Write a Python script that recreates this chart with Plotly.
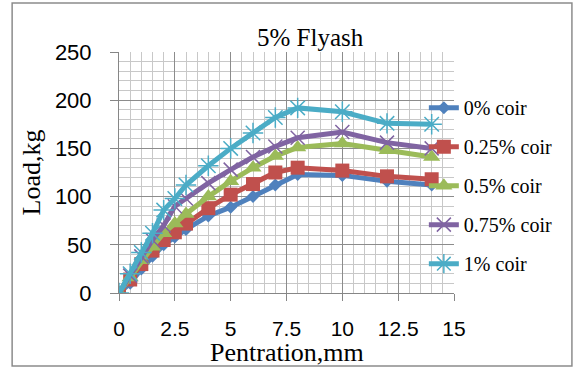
import plotly.graph_objects as go

# Penetration (mm) and load (kg) readings for each coir content, 5% fly ash mix
penetration = [0, 0.5, 1, 1.5, 2, 2.5, 3, 4, 5, 6, 7, 8, 10, 12, 14]
load_coir_0 = [0, 10, 25, 38, 50, 58, 66, 80, 89, 100, 112, 123, 122, 116, 112]
load_coir_025 = [0, 14, 30, 44, 55, 63, 72, 88, 102, 113, 125, 130, 127, 121, 118]
load_coir_05 = [0, 16, 34, 48, 62, 72, 82, 100, 116, 130, 142, 151, 155, 148, 141]
load_coir_075 = [0, 18, 38, 55, 70, 90, 98, 114, 128, 141, 152, 161, 167, 156, 150]
load_coir_1 = [0, 20, 42, 62, 86, 98, 112, 132, 150, 166, 182, 192, 188, 176, 175]

series_names = ["0% coir", "0.25% coir", "0.5% coir", "0.75% coir", "1% coir"]
series_values = [load_coir_0, load_coir_025, load_coir_05, load_coir_075, load_coir_1]

x_tick_values = [0, 2.5, 5, 7.5, 10, 12.5, 15]
x_tick_labels = ["0", "2.5", "5", "7.5", "10", "12.5", "15"]
y_tick_values = [0, 50, 100, 150, 200, 250]

colors = ["#4F81BD", "#C0504D", "#9BBB59", "#8064A2", "#4BACC6"]
symbols = ["diamond", "square", "triangle-up", "x-thin-open", "asterisk-open"]
marker_sizes = [10, 14, 15, 14, 17]

fig = go.Figure()
for i, (name, values) in enumerate(zip(series_names, series_values)):
    open_marker = symbols[i].endswith("open")
    fig.add_trace(go.Scatter(
        x=penetration,
        y=values,
        name=name,
        legendgroup=name,
        mode="lines+markers",
        line=dict(color=colors[i], width=5),
        marker=dict(
            symbol=symbols[i],
            size=marker_sizes[i],
            color=colors[i],
            line=dict(color=colors[i], width=1.5 if open_marker else 0),
        ),
    ))

serif = "Liberation Serif, Times New Roman, serif"
sans = "Liberation Sans, Arial, sans-serif"

fig.update_layout(
    width=576,
    height=369,
    margin=dict(l=119, r=122, t=52, b=76),
    paper_bgcolor="white",
    plot_bgcolor="white",
    showlegend=True,
    legend=dict(
        x=0.91,
        y=0.85,
        xanchor="left",
        yanchor="top",
        bgcolor="rgba(0,0,0,0)",
        font=dict(family=serif, size=20, color="#000000"),
        tracegroupgap=10,
        itemwidth=30,
    ),
    annotations=[
        dict(text="5% Flyash", xref="paper", yref="paper", x=0.573, y=1.062,
             xanchor="center", yanchor="middle",
             showarrow=False, font=dict(family=serif, size=25, color="#000000")),
        dict(text="Load,kg", xref="paper", yref="paper", x=-0.26, y=0.5,
             xanchor="center", yanchor="middle",
             textangle=-90, showarrow=False,
             font=dict(family=serif, size=26, color="#000000")),
        dict(text="Pentration,mm", xref="paper", yref="paper", x=0.5, y=-0.245,
             xanchor="center", yanchor="middle",
             showarrow=False, font=dict(family=serif, size=26, color="#000000")),
    ],
    shapes=[
        dict(type="rect", xref="paper", yref="paper",
             x0=-0.319, x1=1.352, y0=-0.303, y1=1.203,
             line=dict(color="#8c8c8c", width=1.5), fillcolor="rgba(0,0,0,0)"),
    ],
)

fig.update_xaxes(
    range=[0, 15],
    tickvals=x_tick_values,
    ticktext=x_tick_labels,
    ticks="outside",
    ticklen=7,
    tickcolor="#868686",
    showline=True,
    linecolor="#868686",
    linewidth=1,
    showgrid=True,
    gridcolor="#8c8c8c",
    gridwidth=1,
    minor=dict(dtick=0.5, showgrid=True, gridcolor="#c8c8c8", gridwidth=1),
    zeroline=False,
    tickfont=dict(family=sans, size=21, color="#000000"),
    ticklabelstandoff=10,
)
fig.update_yaxes(
    range=[0, 250],
    tickvals=y_tick_values,
    ticks="outside",
    ticklen=8,
    tickcolor="#868686",
    showline=True,
    linecolor="#868686",
    linewidth=1,
    showgrid=True,
    gridcolor="#8c8c8c",
    gridwidth=1,
    minor=dict(dtick=10, showgrid=True, gridcolor="#c8c8c8", gridwidth=1),
    zeroline=False,
    tickfont=dict(family=sans, size=22, color="#000000"),
    ticklabelstandoff=14,
)

fig.write_html("out.html")
